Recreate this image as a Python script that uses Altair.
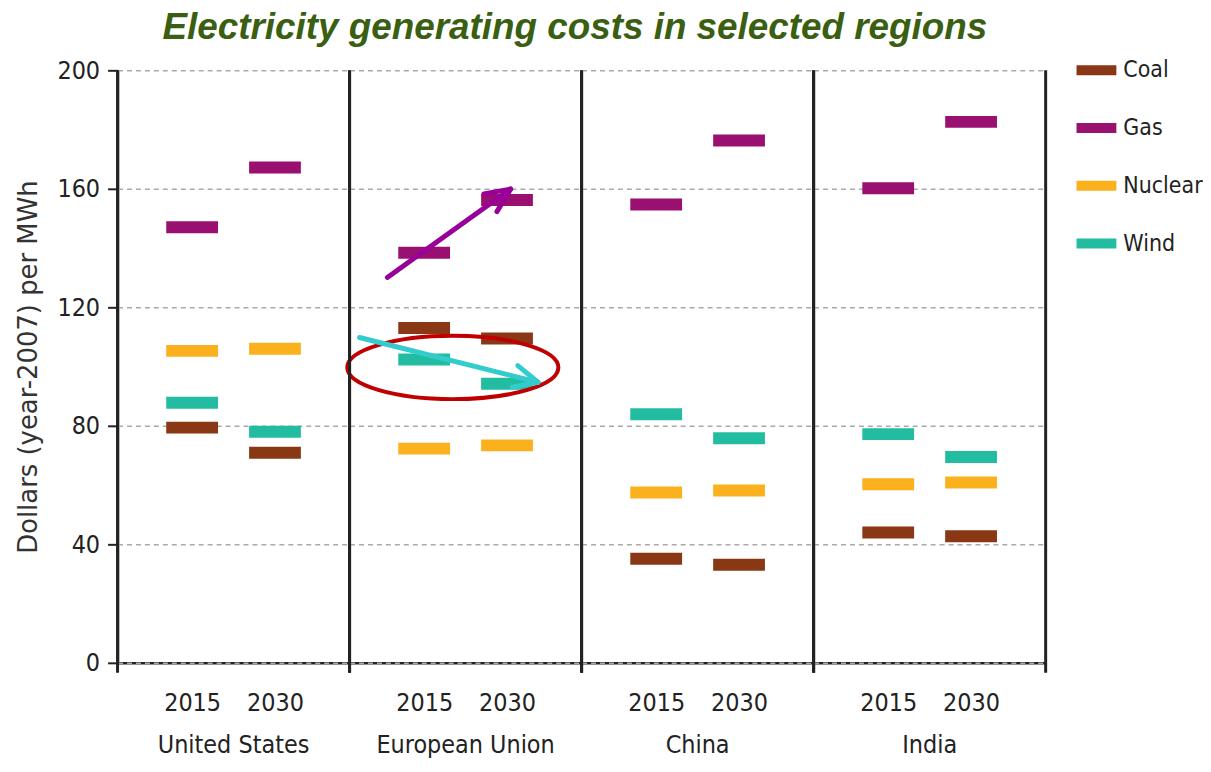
import altair as alt
import pandas as pd

regions = ["United States", "European Union", "China", "India"]
years = ["2015", "2030"]
techs = ["Coal", "Gas", "Nuclear", "Wind"]
colors = ["#8a3716", "#9a1070", "#fbb11d", "#22bda0"]

# values ordered region by region, 2015 then 2030
coal = [79.4, 70.9, 113.0, 109.5, 35.1, 33.1, 44.0, 42.7]
gas = [147.0, 167.2, 138.4, 156.2, 154.7, 176.3, 160.2, 182.6]
nuclear = [105.3, 106.0, 72.3, 73.4, 57.5, 58.2, 60.3, 60.9]
wind = [87.8, 78.0, 102.4, 94.2, 83.9, 75.8, 77.2, 69.5]

# annotation arrows in the European Union panel
# (x in year-slot units: 0 = 2015, 1 = 2030; y in $/MWh)
arrow_seg = ["p_shaft", "p_shaft", "p_barb1", "p_barb1", "p_barb2", "p_barb2",
             "t_shaft", "t_shaft", "t_barb1", "t_barb1", "t_barb2", "t_barb2"]
arrow_x = [-0.444, 1.043, 1.043, 0.878, 1.043, 0.721,
           -0.780, 1.374, 1.374, 1.130, 1.374, 1.063]
arrow_y = [130.1, 159.9, 159.9, 152.3, 159.9, 158.3,
           109.8, 94.7, 94.7, 100.3, 94.7, 93.0]
arrow_col = ["#990099"] * 6 + ["#33cccc"] * 6
ellipse_x = [0.346]
ellipse_y = [99.7]

rows = []
for tech, vals in zip(techs, [coal, gas, nuclear, wind]):
    for ri, r in enumerate(regions):
        for yi, y in enumerate(years):
            rows.append(dict(kind="bar", region=r, year=y, slot=yi, tech=tech,
                             cost=vals[ri * 2 + yi]))
for i, (s, x, y, c) in enumerate(zip(arrow_seg, arrow_x, arrow_y, arrow_col)):
    rows.append(dict(kind="arrow", region="European Union", seg=s, slot=x,
                     cost=y, acol=c, ord=i))
for x, y in zip(ellipse_x, ellipse_y):
    rows.append(dict(kind="ellipse", region="European Union", slot=x, cost=y))
df = pd.DataFrame(rows)

NARROW = "DejaVu Sans Condensed, sans-serif"
W, H = 233, 595

label_expr = "[" + ",".join("'%s'" % y for y in years) + "][datum.value]"

xenc = alt.X("slot:Q", scale=alt.Scale(domain=[-0.9, 1.9], nice=False, zero=False),
             axis=alt.Axis(title=None, values=list(range(len(years))),
                           labelExpr=label_expr, labelAngle=0, ticks=False,
                           grid=False, labelFont=NARROW, labelFontSize=25,
                           labelColor="#222", labelPadding=28,
                           domainColor="#222", domainWidth=2.5))
yenc = alt.Y("cost:Q", scale=alt.Scale(domain=[0, 200], nice=False),
             axis=alt.Axis(values=[0, 40, 80, 120, 160, 200],
                           title="Dollars (year-2007) per MWh"))

bars = alt.Chart().mark_tick(orient="horizontal", thickness=12,
                             opacity=1).encode(
    x=xenc,
    y=yenc,
    size=alt.value(52),
    color=alt.Color("tech:N", sort=techs,
                    scale=alt.Scale(domain=techs, range=colors),
                    legend=alt.Legend(title=None, orient="none",
                                      legendX=963, legendY=-20)),
).transform_filter("datum.kind == 'bar'")

one = "datum.kind == 'bar' && datum.tech == 'Coal' && datum.year == '2015'"
rule_left = alt.Chart().mark_rule(color="#222", strokeWidth=3).encode(
    x=alt.value(0), y=alt.value(0), y2=alt.value(H + 10)
).transform_filter(one)
rule_right = alt.Chart().mark_rule(color="#222", strokeWidth=3).encode(
    x=alt.value(W), y=alt.value(0), y2=alt.value(H + 10)
).transform_filter(one)

arrows = alt.Chart().mark_line(strokeWidth=5, strokeCap="round").encode(
    x=alt.X("slot:Q"),
    y=alt.Y("cost:Q"),
    detail="seg:N",
    order="ord:Q",
    stroke=alt.Stroke("acol:N", scale=None),
).transform_filter("datum.kind == 'arrow'")

ellipse = alt.Chart().mark_point(
    shape="M -1 0 A 1 0.3 0 1 0 1 0 A 1 0.3 0 1 0 -1 0 Z",
    size=212 * 212, filled=False, stroke="#c00000", strokeWidth=4, opacity=1,
).encode(x=alt.X("slot:Q"), y=alt.Y("cost:Q")).transform_filter(
    "datum.kind == 'ellipse'")

layered = alt.layer(bars, ellipse, arrows, rule_left, rule_right).properties(
    width=W, height=H)

chart = layered.facet(
    data=df,
    column=alt.Column("region:N", sort=regions,
                      header=alt.Header(title=None, labelOrient="bottom",
                                        labelFont=NARROW, labelFontSize=25,
                                        labelColor="#222", labelPadding=18)),
    spacing=0,
    bounds="flush",
).properties(
    title=alt.TitleParams(
        "Electricity generating costs in selected regions",
        font="Liberation Sans", fontSize=37, fontStyle="italic", fontWeight="bold",
        color="#3a5f12", anchor="start", dx=147, offset=3,
    ),
    padding={"left": 8, "top": 0, "right": 0, "bottom": 0},
).configure_view(stroke="transparent").configure_axisY(
    labelFont=NARROW, labelFontSize=25, labelColor="#222", labelPadding=8,
    tickSize=10, tickColor="#222", tickWidth=2,
    domainColor="#222", domainWidth=2.5,
    grid=True, gridDash=[5, 4], gridColor="#aaaaaa", gridWidth=1.5,
    titleFont="DejaVu Sans", titleFontSize=26, titleFontWeight="normal",
    titleColor="#333", titlePadding=15,
).configure_legend(
    labelFont=NARROW, labelFontSize=23,
    labelColor="#222", symbolType="M -1 -0.25 L 1 -0.25 L 1 0.25 L -1 0.25 Z",
    symbolSize=1600, symbolStrokeWidth=0, rowPadding=26, labelOffset=7,
)

chart.save("out.html", embed_options={"renderer": "svg", "actions": False})
